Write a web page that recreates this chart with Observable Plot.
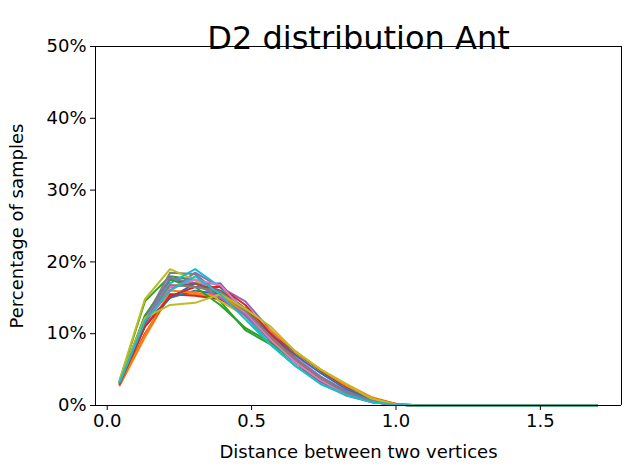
<!DOCTYPE html>
<html><head><meta charset="utf-8">
<script src="https://cdn.jsdelivr.net/npm/d3@7"></script>
<script src="https://cdn.jsdelivr.net/npm/@observablehq/plot@0.6"></script>
<style>body{margin:0;background:#fff;font-family:"DejaVu Sans",sans-serif}</style>
</head><body><div id="chart"></div>
<script>
const binCenters = d3.range(20).map(i => (i + 0.5) * 0.087);
const colors = ["#1f77b4","#ff7f0e","#2ca02c","#d62728","#9467bd","#8c564b","#e377c2","#7f7f7f","#bcbd22","#17becf"];
const xTicks = [0, 0.5, 1.0, 1.5];
const yTicks = [0, 0.1, 0.2, 0.3, 0.4, 0.5];
// percentage of samples per distance bin, one array per model
const series = [
  [3.4,11.5,15.0,17.0,17.0,13.0,9.5,6.5,4.0,2.0,0.7,0.1,0,0,0,0,0,0,0,0],
  [2.8,9.5,15.5,15.5,15.0,12.5,9.8,7.2,5.0,3.0,1.2,0.2,0,0,0,0,0,0,0,0],
  [3.5,14.5,18.0,17.5,14.5,10.5,8.5,5.5,3.5,1.8,0.6,0.1,0,0,0,0,0,0,0,0],
  [2.9,10.0,15.5,15.3,14.8,12.8,10.0,7.5,4.8,2.6,1.0,0.2,0,0,0,0,0,0,0,0],
  [3.3,11.5,16.0,18.5,16.5,14.5,10.5,6.0,3.2,1.4,0.5,0.1,0,0,0,0,0,0,0,0],
  [3.2,12.5,17.5,17.0,15.5,13.0,9.0,6.0,3.5,1.8,0.6,0.1,0,0,0,0,0,0,0,0],
  [3.0,11.0,16.5,17.5,16.0,13.5,9.8,6.8,4.0,2.0,0.7,0.1,0,0,0,0,0,0,0,0],
  [3.3,12.0,18.5,18.3,15.5,12.5,9.0,6.0,3.5,1.7,0.6,0.1,0,0,0,0,0,0,0,0],
  [3.6,14.8,19.0,17.5,14.5,12.5,9.5,6.2,4.0,2.0,0.7,0.1,0,0,0,0,0,0,0,0],
  [3.4,12.0,17.0,19.0,16.5,12.5,8.5,5.5,3.0,1.5,0.5,0.1,0,0,0,0,0,0,0,0],
  [3.1,11.0,15.0,16.0,15.5,13.5,10.0,7.0,4.5,2.3,0.9,0.1,0,0,0,0,0,0,0,0],
  [2.9,9.8,16.0,15.7,15.3,13.0,10.5,7.5,5.0,2.8,1.0,0.2,0,0,0,0,0,0,0,0],
  [3.2,12.5,17.5,16.5,14.0,10.8,8.8,6.0,3.8,1.9,0.7,0.1,0,0,0,0,0,0,0,0],
  [3.0,11.0,15.2,16.5,16.5,14.0,10.0,6.5,3.6,1.6,0.5,0.1,0,0,0,0,0,0,0,0],
  [3.3,12.0,17.8,17.0,15.0,12.5,9.5,6.5,4.0,2.0,0.7,0.1,0,0,0,0,0,0,0,0],
  [3.1,11.5,16.5,17.0,16.0,13.5,9.5,6.0,3.4,1.6,0.5,0.1,0,0,0,0,0,0,0,0],
  [3.4,12.0,16.5,17.5,16.8,13.0,9.2,6.0,3.5,1.6,0.5,0.1,0,0,0,0,0,0,0,0],
  [3.2,11.8,16.8,16.5,15.8,13.2,9.6,6.4,3.8,1.8,0.6,0.1,0,0,0,0,0,0,0,0],
  [3.5,12.2,14.0,14.3,15.5,13.5,11.0,7.5,5.0,3.0,1.0,0.1,0,0,0,0,0,0,0,0],
  [3.3,11.8,16.0,18.0,15.5,12.0,8.5,5.5,3.0,1.5,0.5,0.1,0,0,0,0,0,0,0,0]
];
const rows = series.flatMap((vals, k) => vals.map((v, i) => ({x: binCenters[i], y: v / 100, k})));

const chart = Plot.plot({
  width: 630, height: 470,
  marginLeft: 95, marginRight: 9, marginTop: 46, marginBottom: 65,
  style: {fontSize: "18px", fontFamily: "DejaVu Sans", color: "#000", overflow: "visible"},
  x: {domain: [-0.0405, 1.781]},
  y: {domain: [0, 0.5]},
  marks: [
    Plot.line(rows, {x: "x", y: "y", z: "k", stroke: d => colors[d.k % 10], strokeWidth: 2}),
    Plot.ruleY([0.5], {stroke: "#000"}),
    Plot.ruleX([1.781], {stroke: "#000"}),
    Plot.axisX({ticks: xTicks, tickFormat: d3.format(".1f"), tickSize: 5, label: "Distance between two vertices", labelAnchor: "center", labelArrow: "none", labelOffset: 52}),
    Plot.axisY({ticks: yTicks, tickFormat: d3.format(".0%"), tickSize: 5, label: "Percentage of samples", labelAnchor: "center", labelArrow: "none", labelOffset: 85}),
    Plot.ruleX([-0.0405], {stroke: "#000"}),
    Plot.ruleY([0], {stroke: "#000"}),
    Plot.text(["D2 distribution Ant"], {frameAnchor: "top", dy: -20, fontSize: 32, fill: "#000"})
  ]
});
document.getElementById("chart").append(chart);
</script></body></html>
